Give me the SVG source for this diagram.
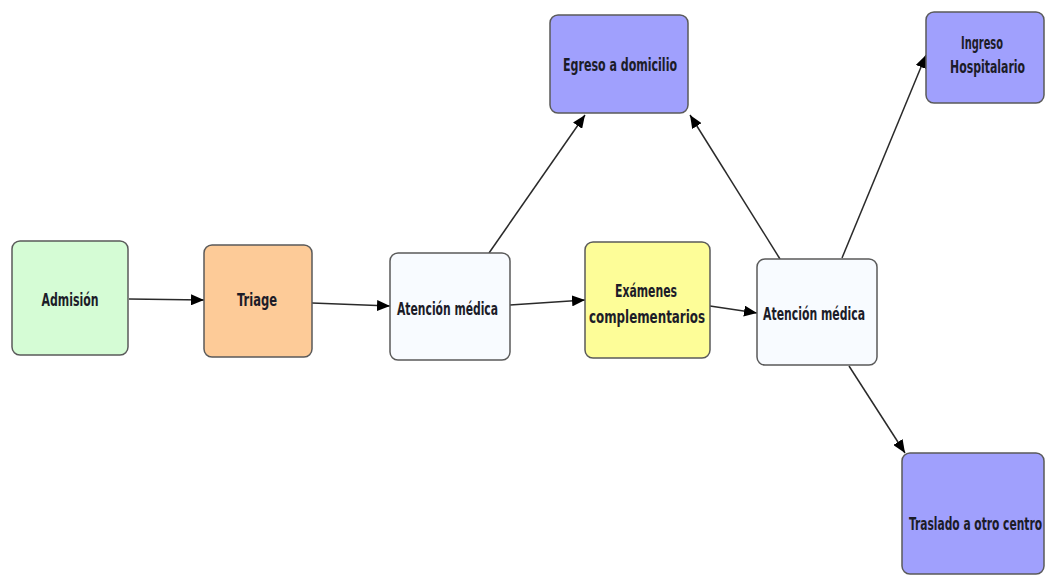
<svg xmlns="http://www.w3.org/2000/svg" width="1047" height="576" viewBox="0 0 1047 576">
<style>
.box{stroke:#5a5a5a;stroke-width:1.5}
.t{font-family:"DejaVu Sans Condensed","DejaVu Sans",sans-serif;font-weight:bold;font-size:18px;fill:#1c1c28;text-anchor:middle;dominant-baseline:central}
.c{stroke:#2a2a2a;stroke-width:1.5;fill:none;marker-end:url(#ah)}
</style>
<defs>
<marker id="ah" viewBox="0 0 13 11" refX="13" refY="5.5" markerWidth="13" markerHeight="11" markerUnits="userSpaceOnUse" orient="auto">
<path d="M0,0 L13,5.5 L0,11 Z" fill="#000"/>
</marker>
</defs>
<rect width="1047" height="576" fill="#fff"/>
<g id="connectors">
<line class="c" x1="129" y1="299" x2="204" y2="300"/>
<line class="c" x1="312" y1="303" x2="390" y2="306"/>
<line class="c" x1="510" y1="305" x2="585" y2="300"/>
<line class="c" x1="710" y1="306" x2="757" y2="313"/>
<line class="c" x1="489" y1="253" x2="585" y2="115"/>
<line class="c" x1="780" y1="259" x2="690" y2="115"/>
<line class="c" x1="842" y1="258" x2="926" y2="55"/>
<line class="c" x1="849" y1="366" x2="905" y2="453"/>
</g>
<g id="admision">
<rect class="box" x="12" y="241" width="116" height="114" rx="8" fill="#d5fcd5"/>
<text class="t" transform="translate(70,300) scale(0.65,1)" textLength="87.7" lengthAdjust="spacingAndGlyphs">Admisión</text>
</g>
<g id="triage">
<rect class="box" x="204" y="245" width="108" height="112" rx="8" fill="#fdcb98"/>
<text class="t" transform="translate(257,300) scale(0.65,1)" textLength="61.5" lengthAdjust="spacingAndGlyphs">Triage</text>
</g>
<g id="atencion1">
<rect class="box" x="390" y="253" width="120" height="107" rx="8" fill="#f8fbff"/>
<text class="t" transform="translate(447.5,309) scale(0.65,1)" textLength="155.4" lengthAdjust="spacingAndGlyphs">Atención médica</text>
</g>
<g id="examenes">
<rect class="box" x="585" y="242" width="125" height="116" rx="8" fill="#fdfd98"/>
<text class="t" transform="translate(646,291) scale(0.65,1)" textLength="95.4" lengthAdjust="spacingAndGlyphs">Exámenes</text>
<text class="t" transform="translate(647,317) scale(0.65,1)" textLength="178.5" lengthAdjust="spacingAndGlyphs">complementarios</text>
</g>
<g id="atencion2">
<rect class="box" x="757" y="259" width="120" height="106" rx="8" fill="#f8fbff"/>
<text class="t" transform="translate(814,314) scale(0.65,1)" textLength="156.9" lengthAdjust="spacingAndGlyphs">Atención médica</text>
</g>
<g id="egreso">
<rect class="box" x="550" y="15" width="138" height="98" rx="8" fill="#a0a0fd"/>
<text class="t" transform="translate(620,65) scale(0.65,1)" textLength="175.4" lengthAdjust="spacingAndGlyphs">Egreso a domicilio</text>
</g>
<g id="ingreso">
<rect class="box" x="926" y="12" width="118" height="91" rx="8" fill="#a0a0fd"/>
<text class="t" transform="translate(982,43) scale(0.65,1)" textLength="64.6" lengthAdjust="spacingAndGlyphs">Ingreso</text>
<text class="t" transform="translate(987.5,67) scale(0.65,1)" textLength="115.4" lengthAdjust="spacingAndGlyphs">Hospitalario</text>
</g>
<g id="traslado">
<rect class="box" x="902" y="453" width="142" height="121" rx="8" fill="#a0a0fd"/>
<text class="t" transform="translate(975.5,524) scale(0.65,1)" textLength="204.6" lengthAdjust="spacingAndGlyphs">Traslado a otro centro</text>
</g>
</svg>
